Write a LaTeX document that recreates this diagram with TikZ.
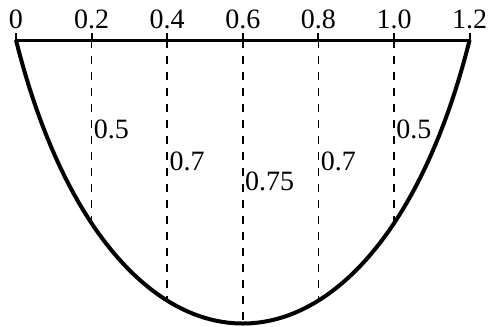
\documentclass[tikz,border=0pt]{standalone}
\usepackage{fontspec}
\setmainfont{Liberation Serif}
\begin{document}
\begin{tikzpicture}[x=189pt,y=189pt,
  axisline/.style={line width=1.5pt},
  curveline/.style={line width=2pt, line join=round},
  guide/.style={dash pattern=on 4pt off 4pt, line width=0.8pt},
  tickmark/.style={line width=1pt},
  ticklabel/.style={anchor=base, inner sep=0pt, font=\fontsize{14}{16}\selectfont},
  depthlabel/.style={anchor=west, inner sep=1pt, font=\fontsize{14}{16}\selectfont}]
\useasboundingbox (-0.0423,0.1058) rectangle (1.2513,-0.7566);
% surface points
\foreach \i/\x in {0/0,1/0.2,2/0.4,3/0.6,4/0.8,5/1.0,6/1.2} {
  \coordinate (t\i) at (\x,0);
  \coordinate (k\i) at (\x,0.0185);
  \node[ticklabel] (l\i) at (\x,0.0317) {\x};
}
% control points of the bed profile
\coordinate (c1) at (0.25,-1);
\coordinate (c2) at (0.95,-1);
% bottom points (on the bed profile)
\coordinate (b1) at (0.2,-0.485);
\coordinate (b2) at (0.4,-0.689);
\coordinate (b3) at (0.6,-0.75);
\coordinate (b4) at (0.8,-0.689);
\coordinate (b5) at (1.0,-0.485);
% dashed verticals
\foreach \i in {1,...,5} { \draw[guide] (t\i) -- (b\i); }
% ticks
\foreach \i in {0,...,6} { \draw[tickmark] (t\i) -- (k\i); }
% surface
\draw[axisline] (t0) -- (t6);
% bed profile
\draw[curveline] (t0) .. controls (c1) and (c2) .. (t6);
% depth labels
\node[depthlabel] (d1) at (0.2,-0.2354) {0.5};
\node[depthlabel] (d2) at (0.4,-0.3201) {0.7};
\node[depthlabel] (d3) at (0.6,-0.3730) {0.75};
\node[depthlabel] (d4) at (0.8,-0.3201) {0.7};
\node[depthlabel] (d5) at (1.0,-0.2354) {0.5};
\end{tikzpicture}
\end{document}
